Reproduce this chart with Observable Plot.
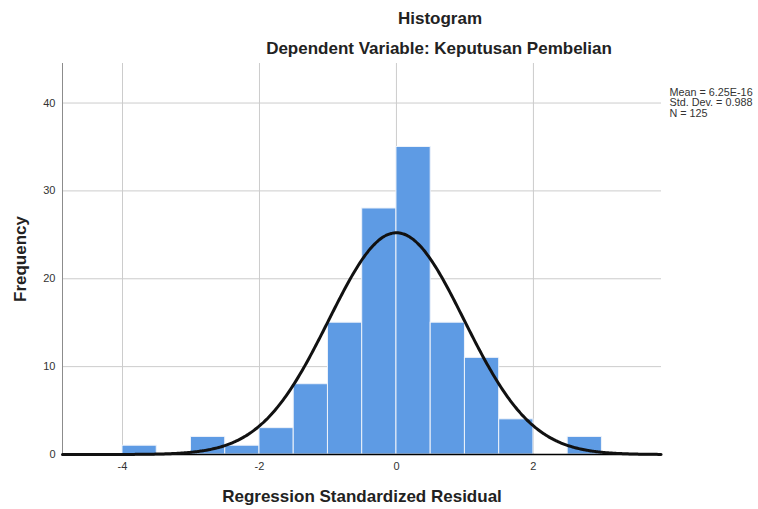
<!DOCTYPE html>
<html>
<head>
<meta charset="utf-8">
<script src="https://cdn.jsdelivr.net/npm/d3@7"></script>
<script src="https://cdn.jsdelivr.net/npm/@observablehq/plot@0.6"></script>
<style>
  html, body { margin: 0; padding: 0; background: #fff; }
  #chart svg { display: block; }
</style>
</head>
<body>
<div id="chart"></div>
<script>
// Histogram bins (lower / upper edges) and frequencies
const binStart = [-4.0, -3.0, -2.5, -2.0, -1.5, -1.0, -0.5, 0.0, 0.5, 1.0, 1.5, 2.5];
const binEnd   = [-3.5, -2.5, -2.0, -1.5, -1.0, -0.5, 0.0, 0.5, 1.0, 1.5, 2.0, 3.0];
const counts   = [1, 2, 1, 3, 8, 15, 28, 35, 15, 11, 4, 2];

// Summary statistics shown in the legend
const meanValue = 6.25e-16;
const sdValue = 0.988;
const nValue = 125;
const binWidth = 0.5;
const legendLines = ["Mean = 6.25E-16", "Std. Dev. = 0.988", "N = 125"];

const xTicks = [-4, -2, 0, 2];
const yTicks = [0, 10, 20, 30, 40];

const xDomain = [-4.876, 3.87];
const yDomain = [0, 44.5];

const bars = binStart.map((s, i) => ({x1: s, x2: binEnd[i], y: counts[i]}));

// Fitted normal curve defined by the reported mean, SD and N
const curve = d3.range(xDomain[0], xDomain[1] + 0.001, 0.02).map(x => ({
  x,
  y: nValue * binWidth * Math.exp(-0.5 * ((x - meanValue) / sdValue) ** 2) / (sdValue * Math.sqrt(2 * Math.PI))
}));

const font = "'Liberation Sans', Arial, sans-serif";
const legendOffsets = [29, 39.5, 50];

const chart = Plot.plot({
  width: 758,
  height: 509,
  marginLeft: 62,
  marginRight: 97,
  marginTop: 63,
  marginBottom: 55,
  style: {fontFamily: font, background: "#fff", overflow: "visible"},
  x: {domain: xDomain, ticks: xTicks},
  y: {domain: yDomain, ticks: yTicks},
  marks: [
    Plot.gridY([10, 20, 30, 40], {stroke: "#cccccc", strokeOpacity: 1, strokeWidth: 1}),
    Plot.gridX(xTicks, {stroke: "#cccccc", strokeOpacity: 1, strokeWidth: 1}),
    Plot.ruleX([xDomain[0]], {stroke: "#8c8c8c", strokeWidth: 1}),
    Plot.rectY(bars, {x1: "x1", x2: "x2", y: "y", fill: "#5e9be4", stroke: "#eef3fa", strokeWidth: 1}),
    Plot.ruleY([0], {stroke: "#000", strokeWidth: 1.5}),
    Plot.line(curve, {x: "x", y: "y", stroke: "#111", strokeWidth: 3, curve: "basis"}),
    Plot.axisX(xTicks, {tickSize: 0, tickPadding: 8, fontSize: 11, fill: "#333", label: null, tickFormat: d => String(d)}),
    Plot.axisY(yTicks, {tickSize: 0, tickPadding: 7, fontSize: 11, fill: "#333", label: null, tickFormat: d => String(d)}),
    // titles
    Plot.text(["Histogram"], {frameAnchor: "top", dx: 78, dy: -45, lineAnchor: "middle", fontSize: 17, fontWeight: "bold", fill: "#222"}),
    Plot.text(["Dependent Variable: Keputusan Pembelian"], {frameAnchor: "top", dx: 77, dy: -15, lineAnchor: "middle", fontSize: 17, fontWeight: "bold", fill: "#222"}),
    Plot.text(["Regression Standardized Residual"], {frameAnchor: "bottom", dy: 42, lineAnchor: "middle", fontSize: 17, fontWeight: "bold", fill: "#222"}),
    Plot.text(["Frequency"], {frameAnchor: "left", dx: -42, dy: 0, rotate: -90, textAnchor: "middle", lineAnchor: "middle", fontSize: 17, fontWeight: "bold", fill: "#222"}),
    // legend
    ...legendLines.map((t, i) => Plot.text([t], {frameAnchor: "top-right", dx: 8, dy: legendOffsets[i], textAnchor: "start", lineAnchor: "middle", fontSize: 10.8, fill: "#333"}))
  ]
});

document.getElementById("chart").appendChild(chart);
</script>
</body>
</html>
